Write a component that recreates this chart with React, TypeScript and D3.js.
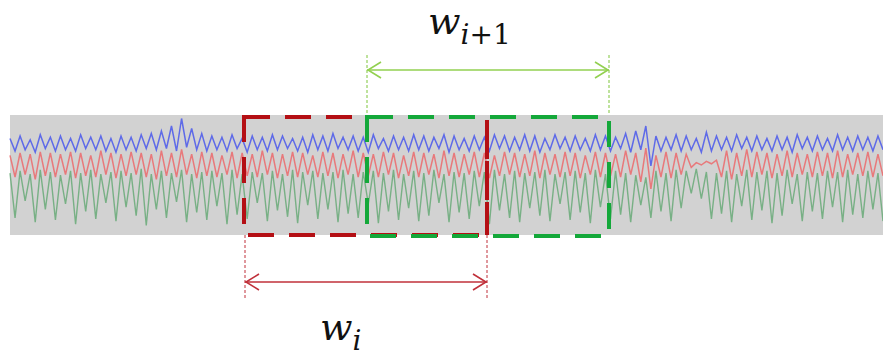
import React from "react";
import * as d3 from "d3";

const blueValues = `94 84 96 85 93 83 97 86 95 84 96 85 94 84 97 86 95 85 96 84
94 83 96 85 95 84 97 86 98 85 100 86 104 84 110 87 102 85 98 84
96 85 95 84 97 86 94 83 96 85 95 84 97 85 96 86 94 84 95 83
97 85 96 84 98 86 95 85 96 84 95 83 97 86 94 84 96 85 95 84
97 85 96 84 95 86 97 83 96 85 94 84 96 85 95 84 97 86 96 84
95 85 97 84 96 83 94 85 97 86 95 84 96 85 94 84 97 85 96 84
95 86 98 83 100 85 104 72 96 84 95 85 97 84 96 85 94 83 99 84
96 85 95 84 97 86 95 84 96 85 94 84 96 85 95 83 97 86 95 84
96 85 94 84 97 85 95 84 96 85 95 84 96 85`.split(/\s+/).map(Number);

const redValues = `78 60 80 62 79 58 81 61 80 60 79 62 81 59 80 61 78 60 82 62
80 59 79 61 81 62 80 60 79 58 82 61 80 60 83 62 79 59 81 61
80 60 78 62 81 59 80 61 79 60 82 62 80 59 79 61 81 60 80 62
78 60 81 61 80 59 79 62 82 60 80 61 79 60 81 62 80 59 78 61
81 60 80 62 79 59 82 61 80 60 79 62 81 60 80 59 78 61 81 62
80 60 79 61 82 59 80 62 79 60 81 61 80 59 78 62 81 60 80 61
79 60 82 62 80 56 84 50 78 60 81 59 80 62 79 68 72 70 73 71
74 60 82 58 80 61 83 60 81 62 80 59 79 61 82 60 80 62 79 60
81 61 80 59 82 60 79 62 80 61 81 60 79 61`.split(/\s+/).map(Number);

const greenValues = `64 22 66 38 63 18 67 30 65 20 62 35 66 16 64 28 67 21 63 36
65 19 66 32 64 24 68 15 63 30 66 22 64 37 67 18 63 27 65 20
66 33 64 16 67 25 63 21 65 36 64 19 66 29 63 23 67 17 65 34
66 21 64 30 65 18 67 26 63 22 65 35 66 17 64 28 67 20 63 31
66 19 64 24 67 36 63 18 65 27 64 21 66 33 65 16 67 29 63 22
66 18 64 31 65 24 67 19 63 35 65 20 66 27 64 17 67 32 63 21
66 25 64 18 62 34 60 22 66 28 64 19 67 31 66 45 68 40 65 21
64 26 66 18 63 33 67 20 65 29 66 17 64 24 67 35 63 19 65 28
64 21 66 32 65 18 67 25 63 22 66 30 64 19`.split(/\s+/).map(Number);

const windowLabels = ["i", "+1"];

const W = 883;
const H = 362;
const bandLeft = 10;
const bandTop = 115;
const bandBottom = 235;

export default function App() {
  const n = blueValues.length;
  const x = d3.scaleLinear().domain([0, n - 1]).range([bandLeft, W]);
  const yBlue = d3.scaleLinear().domain([84, 96]).range([151, 136]);
  const yRed = d3.scaleLinear().domain([60, 80]).range([177, 153]);
  const yGreen = d3.scaleLinear().domain([20, 65]).range([220, 172]);
  const mk = (ys: d3.ScaleLinear<number, number>) =>
    d3
      .line<number>()
      .x((_, i) => x(i))
      .y((v) => ys(v));

  const winW = 243;
  const redX0 = 244;
  const greenX0 = 367;

  const chevron = (x0: number, yy: number, dir: number) =>
    `M${x0 + dir * 13},${yy - 8} L${x0},${yy} L${x0 + dir * 13},${yy + 8}`;

  const font = "'DejaVu Serif', 'Liberation Serif', serif";

  return (
    <svg width={W} height={H} style={{ position: "absolute", left: 0, top: 0, background: "#fff" }}>
      <rect x={bandLeft} y={bandTop} width={W - bandLeft} height={bandBottom - bandTop} fill="#d2d2d2" />
      <path d={mk(yGreen)(greenValues) || ""} fill="none" stroke="#62a872" strokeWidth={1.4} opacity={0.8} />
      <path d={mk(yRed)(redValues) || ""} fill="none" stroke="#ec6a6c" strokeWidth={1.5} opacity={0.85} />
      <path d={mk(yBlue)(blueValues) || ""} fill="none" stroke="#4a58ec" strokeWidth={1.5} opacity={0.85} />

      {/* red window */}
      <rect x={redX0} y={bandTop + 2} width={winW} height={bandBottom - bandTop - 2} fill="none"
        stroke="#b40f14" strokeWidth={4} strokeDasharray="26 15" />
      {/* green window */}
      <rect x={greenX0} y={bandTop + 2} width={winW - 1} height={bandBottom - bandTop - 1} fill="none"
        stroke="#14a83a" strokeWidth={4} strokeDasharray="26 15" />
      {/* red right edge on top */}
      <line x1={redX0 + winW} x2={redX0 + winW} y1={133} y2={bandBottom} stroke="#b40f14" strokeWidth={4} strokeDasharray="26 15" />

      {/* green arrow */}
      <line x1={greenX0} x2={greenX0} y1={55} y2={bandTop} stroke="#7fc53a" strokeWidth={1} strokeDasharray="3 2" />
      <line x1={greenX0 + winW - 1} x2={greenX0 + winW - 1} y1={55} y2={bandTop} stroke="#7fc53a" strokeWidth={1} strokeDasharray="3 2" />
      <line x1={greenX0} x2={greenX0 + winW - 1} y1={70} y2={70} stroke="#92d050" strokeWidth={1.6} />
      <path d={chevron(greenX0 + 1, 70, 1)} fill="none" stroke="#92d050" strokeWidth={1.6} />
      <path d={chevron(greenX0 + winW - 2, 70, -1)} fill="none" stroke="#92d050" strokeWidth={1.6} />

      {/* red arrow */}
      <line x1={redX0 + 1} x2={redX0 + 1} y1={bandBottom} y2={300} stroke="#c0303a" strokeWidth={1} strokeDasharray="3 2" />
      <line x1={redX0 + winW} x2={redX0 + winW} y1={bandBottom} y2={300} stroke="#c0303a" strokeWidth={1} strokeDasharray="3 2" />
      <line x1={redX0 + 1} x2={redX0 + winW} y1={282} y2={282} stroke="#c0303a" strokeWidth={1.6} />
      <path d={chevron(redX0 + 2, 282, 1)} fill="none" stroke="#c0303a" strokeWidth={1.6} />
      <path d={chevron(redX0 + winW - 1, 282, -1)} fill="none" stroke="#c0303a" strokeWidth={1.6} />

      {/* labels */}
      <text x={428} y={34} fontFamily={font} fill="#111">
        <tspan fontStyle="italic" fontSize={38}>w</tspan>
        <tspan dy={10} fontStyle="italic" fontSize={28}>{windowLabels[0]}</tspan>
        <tspan fontSize={28}>{windowLabels[1]}</tspan>
      </text>
      <text x={320} y={340} fontFamily={font} fill="#111">
        <tspan fontStyle="italic" fontSize={38}>w</tspan>
        <tspan dy={10} fontStyle="italic" fontSize={28}>{windowLabels[0]}</tspan>
      </text>
    </svg>
  );
}
